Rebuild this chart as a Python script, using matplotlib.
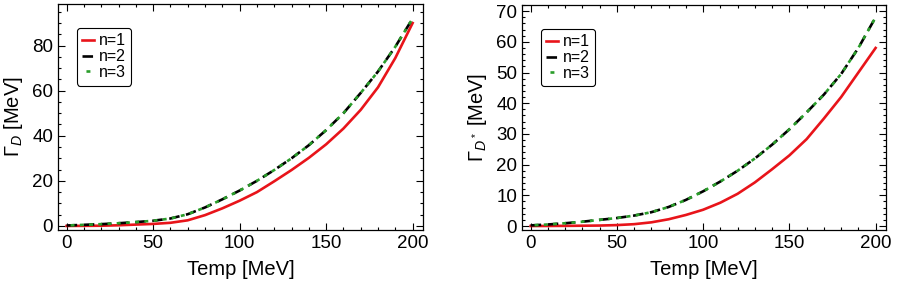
import matplotlib
matplotlib.use("Agg")
import matplotlib.pyplot as plt
from matplotlib.ticker import MultipleLocator

plt.rcParams['font.family'] = ['Liberation Sans', 'DejaVu Sans']
plt.rcParams['mathtext.fontset'] = 'custom'
plt.rcParams['mathtext.rm'] = 'Liberation Sans'
plt.rcParams['mathtext.it'] = 'Liberation Sans:italic'

# temperature grid (MeV)
temp = [0, 10, 20, 30, 40, 50, 60, 70, 80, 90, 100,
        110, 120, 130, 140, 150, 160, 170, 180, 190, 200]

# Gamma_D [MeV]
gd_n1 = [0, 0.05, 0.1, 0.3, 0.6, 0.9, 1.4, 2.5, 4.8, 7.8, 11.2,
         15, 19.8, 24.8, 30.2, 36.2, 43.2, 51.5, 61.5, 74.5, 90]
gd_n2 = [0.2, 0.5, 0.8, 1.2, 1.7, 2.3, 3.3, 5.2, 8.2, 11.8, 15.7,
         20, 24.8, 30, 35.8, 42.5, 50, 59, 68.5, 79.5, 92]
gd_n3 = gd_n2

# Gamma_D* [MeV]
gds_n1 = [0, 0.02, 0.05, 0.1, 0.15, 0.3, 0.6, 1.2, 2.2, 3.6, 5.3,
          7.6, 10.5, 14.2, 18.5, 23, 28.3, 35, 42, 50, 58]
gds_n2 = [0.2, 0.5, 0.9, 1.4, 2.0, 2.6, 3.4, 4.5, 6.2, 8.5, 11.3,
          14.5, 18, 22, 26.5, 31.5, 37, 42.8, 49.5, 58, 68]
gds_n3 = gds_n2

labels = ["n=1", "n=2", "n=3"]

fig = plt.figure(figsize=(9, 2.93), dpi=100)
ax1 = fig.add_axes([0.0644, 0.215, 0.4056, 0.771])
ax2 = fig.add_axes([0.58, 0.215, 0.4044, 0.768])


def draw(ax, y1, y2, y3, ylabel, ylim, ymaj, ymin):
    ax.plot(temp, y1, color='#e8141a', lw=1.9, label=labels[0])
    ax.plot(temp, y2, color='black', lw=1.9, ls=(0, (4, 2.5)), label=labels[1])
    ax.plot(temp, y3, color='#2a9d2a', lw=1.9, ls=(2, (1.5, 2)), label=labels[2])
    ax.set_xlim(-5, 206)
    ax.set_ylim(*ylim)
    ax.xaxis.set_major_locator(MultipleLocator(50))
    ax.xaxis.set_minor_locator(MultipleLocator(10))
    ax.yaxis.set_major_locator(MultipleLocator(ymaj))
    ax.yaxis.set_minor_locator(MultipleLocator(ymin))
    ax.tick_params(which='both', direction='in', top=True, right=True,
                   labelsize=13.5, width=0.8)
    ax.tick_params(which='major', length=5)
    ax.tick_params(which='minor', length=2.5)
    for s in ax.spines.values():
        s.set_linewidth(0.9)
    ax.set_xlabel("Temp [MeV]", fontsize=14.5, labelpad=6)
    ax.set_ylabel(ylabel, fontsize=14.5, labelpad=5)
    leg = ax.legend(loc='upper left', bbox_to_anchor=(0.03, 0.93), fontsize=11.5,
                    handlelength=0.7, handletextpad=0.3, labelspacing=0.05,
                    borderpad=0.35, fancybox=True, framealpha=1,
                    edgecolor='black')
    leg.get_frame().set_linewidth(0.8)


draw(ax1, gd_n1, gd_n2, gd_n3, r"$\Gamma_D$ [MeV]", (-1.8, 98.4), 20, 5)
draw(ax2, gds_n1, gds_n2, gds_n3, r"$\Gamma_{D^*}$ [MeV]", (-1.3, 72), 10, 2)

fig.savefig("out.png", dpi=100)
